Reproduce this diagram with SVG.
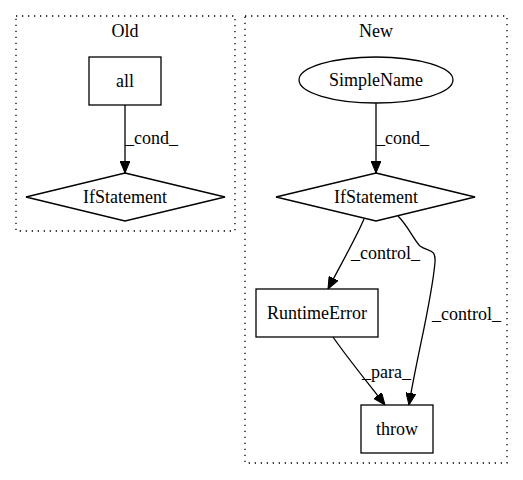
<svg xmlns="http://www.w3.org/2000/svg" width="523" height="480" viewBox="0 0 523 480">
<style>
text{font-family:"Liberation Serif","Times New Roman",serif;font-size:18px;fill:#000}
.c{text-anchor:middle}
.cl{fill:none;stroke:#000;stroke-width:1.3;stroke-dasharray:1.3,4.7}
.n{fill:none;stroke:#000;stroke-width:1.3}
.e{fill:none;stroke:#000;stroke-width:1.3}
</style>
<defs>
<marker id="ah" markerWidth="12" markerHeight="10" refX="12" refY="5" orient="auto" markerUnits="userSpaceOnUse">
<path d="M0,0 L12,5 L0,10 Z" fill="#000" stroke="#000"/>
</marker>
</defs>
<rect width="523" height="480" fill="#fff"/>
<g id="cluster_old">
<rect class="cl" x="16" y="16" width="219" height="215"/>
<text class="c" x="125" y="37">Old</text>
</g>
<g id="cluster_new">
<rect class="cl" x="245" y="16" width="262" height="447"/>
<text class="c" x="376" y="37">New</text>
</g>
<g id="connectors">
<path class="e" d="M125,105 L125,173" marker-end="url(#ah)"/>
<text x="125" y="144">_cond_</text>
<path class="e" d="M376,103 L376,173" marker-end="url(#ah)"/>
<text x="376" y="144">_cond_</text>
<path class="e" d="M364,219 C356,238 340,266 328,289" marker-end="url(#ah)"/>
<text x="351" y="259">_control_</text>
<path class="e" d="M398,216 C408,226 414,240 420,246 C428,252 436,248 435,262 C432,300 416,360 409,405" marker-end="url(#ah)"/>
<text x="432" y="320">_control_</text>
<path class="e" d="M333,337 C346,356 368,383 385,405" marker-end="url(#ah)"/>
<text x="362" y="378">_para_</text>
</g>
<g id="node_all">
<rect class="n" x="89" y="57" width="72" height="48"/>
<text class="c" x="125" y="87">all</text>
</g>
<g id="node_if_old">
<polygon class="n" points="125,173 225,197 125,221 26,197"/>
<text class="c" x="125" y="203">IfStatement</text>
</g>
<g id="node_simplename">
<ellipse class="n" cx="376" cy="80" rx="77" ry="23"/>
<text class="c" x="376" y="86">SimpleName</text>
</g>
<g id="node_if_new">
<polygon class="n" points="376,173 475,197 376,221 276,197"/>
<text class="c" x="376" y="203">IfStatement</text>
</g>
<g id="node_runtimeerror">
<rect class="n" x="256" y="289" width="122" height="48"/>
<text class="c" x="317" y="319">RuntimeError</text>
</g>
<g id="node_throw">
<rect class="n" x="361" y="405" width="72" height="48"/>
<text class="c" x="397" y="435">throw</text>
</g>
</svg>
